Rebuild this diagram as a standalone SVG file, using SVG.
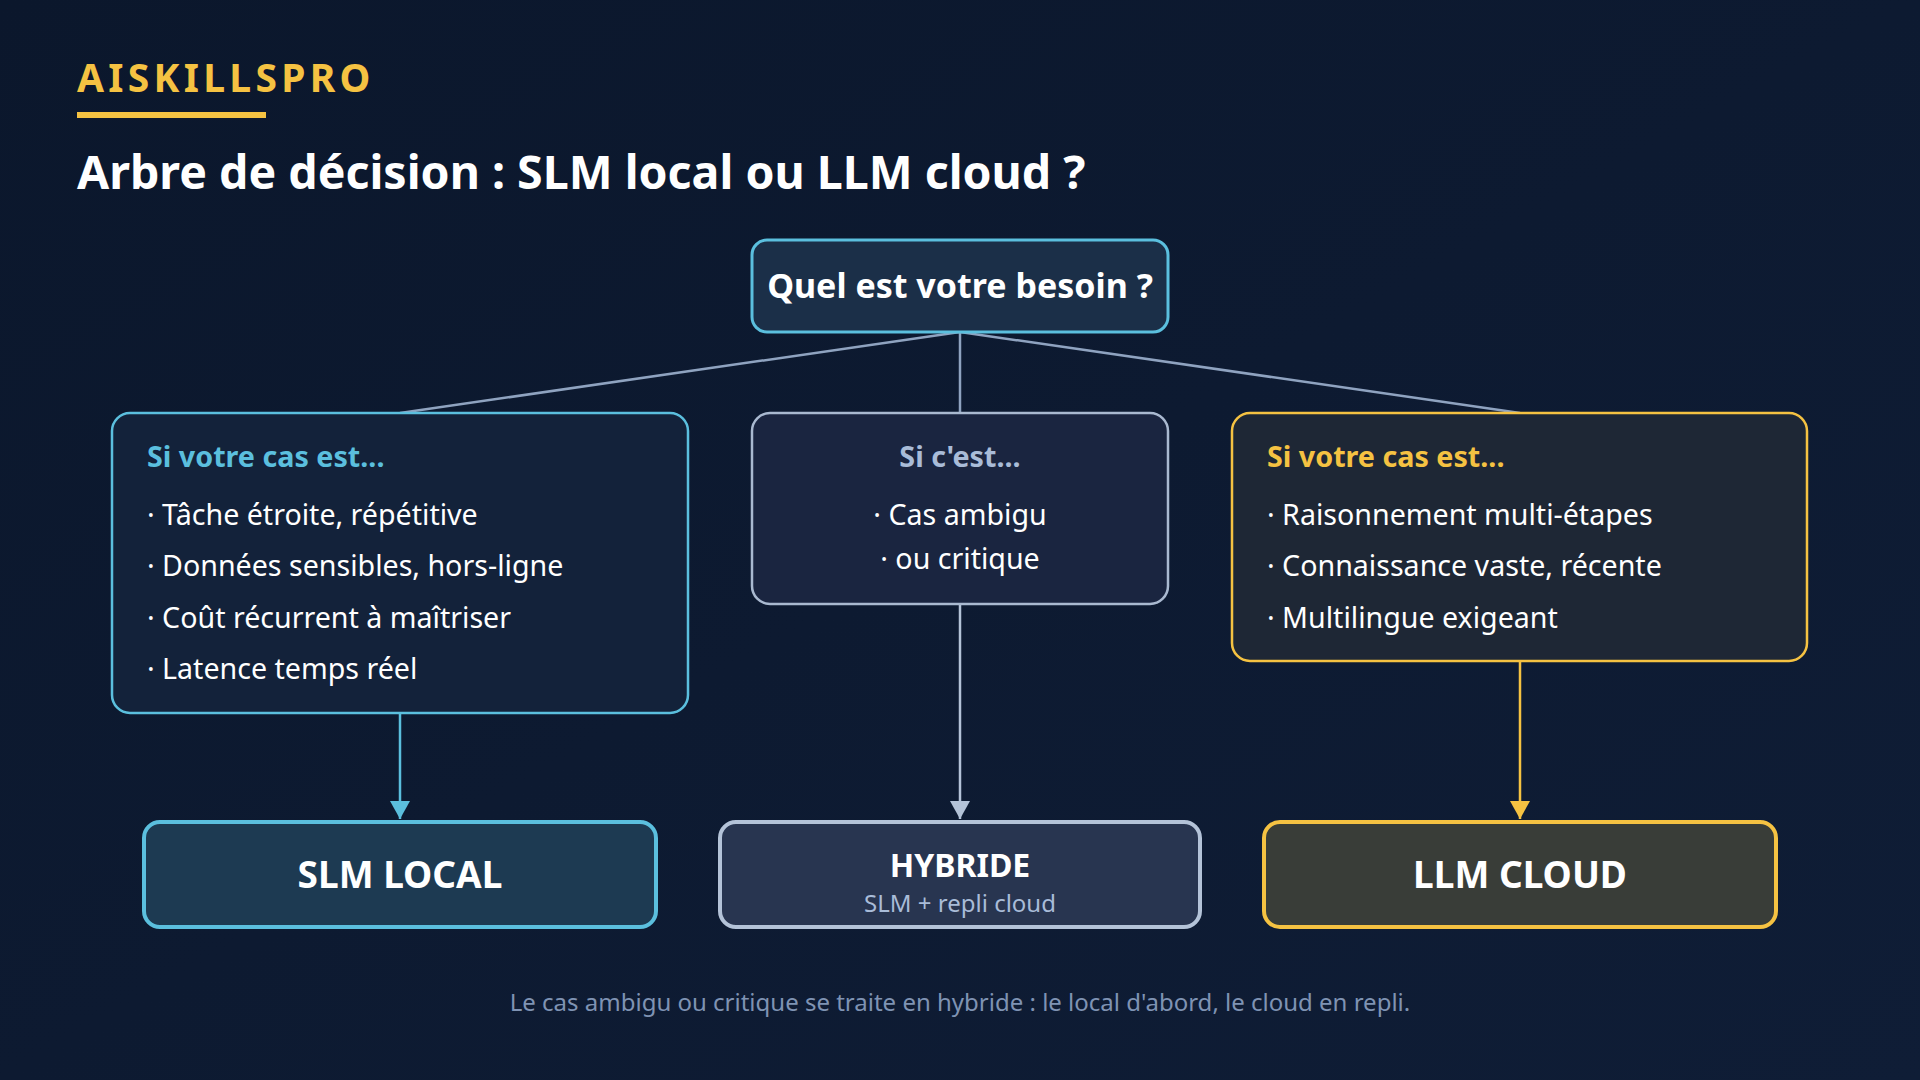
<svg xmlns="http://www.w3.org/2000/svg" width="1920" height="1080" viewBox="0 0 1920 1080">
<defs>
<linearGradient id="bg" x1="0" y1="0" x2="1" y2="1">
<stop offset="0" stop-color="#0b172c"/>
<stop offset="1" stop-color="#0f1d36"/>
</linearGradient>
<marker id="aCyan" viewBox="0 0 20 18" refX="10" refY="18" markerWidth="20" markerHeight="18" markerUnits="userSpaceOnUse">
<path d="M0 0 L20 0 L10 18 Z" fill="#5bbfde"/>
</marker>
<marker id="aGray" viewBox="0 0 20 18" refX="10" refY="18" markerWidth="20" markerHeight="18" markerUnits="userSpaceOnUse">
<path d="M0 0 L20 0 L10 18 Z" fill="#b4c3d8"/>
</marker>
<marker id="aYel" viewBox="0 0 20 18" refX="10" refY="18" markerWidth="20" markerHeight="18" markerUnits="userSpaceOnUse">
<path d="M0 0 L20 0 L10 18 Z" fill="#f5c242"/>
</marker>
<style>
text{font-family:"Noto Sans","Open Sans","Liberation Sans",sans-serif;}
.brand{font-size:39px;font-weight:700;fill:#f5c242;letter-spacing:4.3px;}
.title{font-size:46.5px;font-weight:700;fill:#ffffff;}
.q{font-size:34px;font-weight:700;fill:#ffffff;text-anchor:middle;}
.h{font-size:28.7px;font-weight:700;}
.b{font-size:28.6px;fill:#ffffff;}
.res{font-size:37px;font-weight:700;fill:#ffffff;text-anchor:middle;}
.sub{font-size:24px;fill:#a9bcd8;text-anchor:middle;}
.foot{font-size:24px;fill:#7f93b3;text-anchor:middle;}
.ln{stroke:#8fa3c0;stroke-width:2.5;fill:none;}
</style>
</defs>
<rect width="1920" height="1080" fill="url(#bg)"/>
<text class="brand" x="77" y="92">AISKILLSPRO</text>
<rect x="77" y="112" width="189" height="6" fill="#f5c242"/>
<text class="title" x="77" y="189">Arbre de décision : SLM local ou LLM cloud ?</text>

<g id="connectors">
<line class="ln" x1="960" y1="332" x2="400" y2="413"/>
<line class="ln" x1="960" y1="332" x2="960" y2="413"/>
<line class="ln" x1="960" y1="332" x2="1520" y2="413"/>
<line x1="400" y1="713" x2="400" y2="819" stroke="#5bbfde" stroke-width="2.5" marker-end="url(#aCyan)"/>
<line x1="960" y1="604" x2="960" y2="819" stroke="#b4c3d8" stroke-width="2.5" marker-end="url(#aGray)"/>
<line x1="1520" y1="661" x2="1520" y2="819" stroke="#f5c242" stroke-width="2.5" marker-end="url(#aYel)"/>
</g>

<g id="question">
<rect x="752" y="240" width="416" height="92" rx="15" fill="#1b2f48" stroke="#5bbfde" stroke-width="3"/>
<text class="q" x="960" y="298">Quel est votre besoin ?</text>
</g>

<g id="cas-slm">
<rect x="112" y="413" width="576" height="300" rx="18" fill="#13223a" stroke="#5bbfde" stroke-width="2.5"/>
<text class="h" x="147" y="467" fill="#5bbfde">Si votre cas est...</text>
<text class="b" x="147" y="525">· Tâche étroite, répétitive</text>
<text class="b" x="147" y="576">· Données sensibles, hors-ligne</text>
<text class="b" x="147" y="628">· Coût récurrent à maîtriser</text>
<text class="b" x="147" y="679">· Latence temps réel</text>
</g>

<g id="cas-hybride">
<rect x="752" y="413" width="416" height="191" rx="18" fill="#1a2540" stroke="#a9b9d0" stroke-width="2.5"/>
<text class="h" x="960" y="467" fill="#a9bcd8" text-anchor="middle">Si c'est...</text>
<text class="b" x="960" y="525" text-anchor="middle">· Cas ambigu</text>
<text class="b" x="960" y="569" text-anchor="middle">· ou critique</text>
</g>

<g id="cas-llm">
<rect x="1232" y="413" width="575" height="248" rx="18" fill="#1e2735" stroke="#f5c242" stroke-width="2.5"/>
<text class="h" x="1267" y="467" fill="#f5c242">Si votre cas est...</text>
<text class="b" x="1267" y="525">· Raisonnement multi-étapes</text>
<text class="b" x="1267" y="576">· Connaissance vaste, récente</text>
<text class="b" x="1267" y="628">· Multilingue exigeant</text>
</g>

<g id="slm-local">
<rect x="144" y="822" width="512" height="105" rx="16" fill="#1d3a52" stroke="#5bbfde" stroke-width="4"/>
<text class="res" x="400" y="888">SLM LOCAL</text>
</g>

<g id="hybride">
<rect x="720" y="822" width="480" height="105" rx="16" fill="#283550" stroke="#b4c3d8" stroke-width="4"/>
<text class="res" x="960" y="877" style="font-size:32px">HYBRIDE</text>
<text class="sub" x="960" y="912">SLM + repli cloud</text>
</g>

<g id="llm-cloud">
<rect x="1264" y="822" width="512" height="105" rx="16" fill="#393d38" stroke="#f5c242" stroke-width="4"/>
<text class="res" x="1520" y="888">LLM CLOUD</text>
</g>

<text class="foot" x="960" y="1011">Le cas ambigu ou critique se traite en hybride : le local d'abord, le cloud en repli.</text>
</svg>
